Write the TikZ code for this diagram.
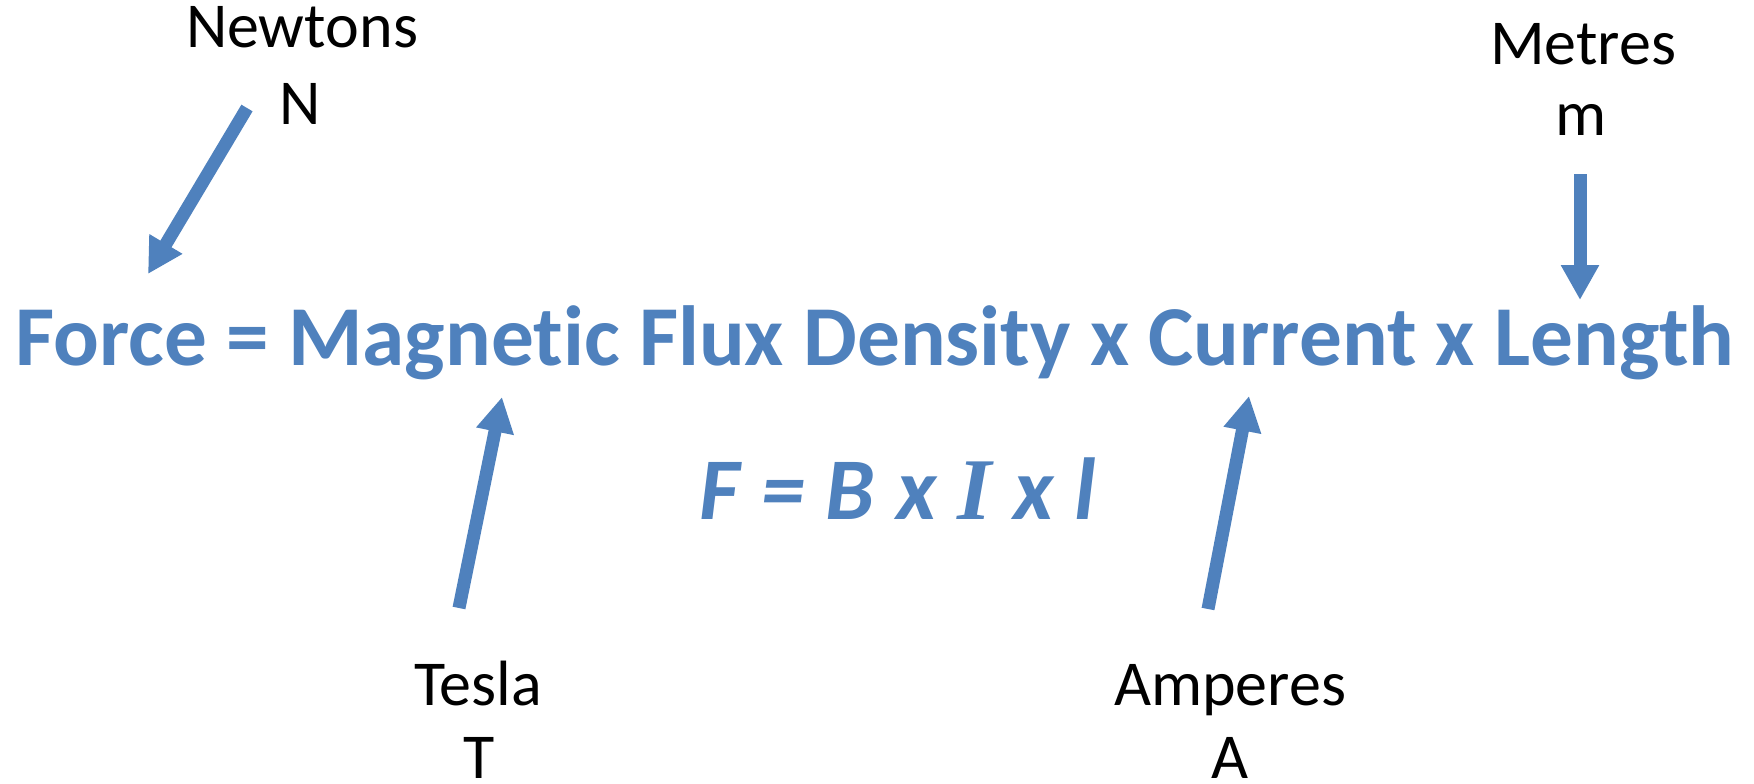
\documentclass[tikz,border=0pt]{standalone}
\usepackage{fontspec}
\setmainfont{Carlito}[Ligatures={NoCommon,NoRare}]
\newfontfamily\serifI{Liberation Serif}
\usetikzlibrary{arrows.meta}
\definecolor{officeblue}{RGB}{79,129,189}
\newcommand{\gap}{\hspace{0.24em}}
\tikzset{
  unitlbl/.style={inner sep=0pt, anchor=base, font=\fontsize{64}{75}\selectfont, text=black},
  blockarrow/.style={draw=officeblue, line width=13pt, -{Triangle[width=36pt,length=35pt]}},
}
\begin{document}
\begin{tikzpicture}[x=1pt,y=-1pt]
\useasboundingbox (0,0) rectangle (1754,784);
% main equation in words
\node[inner sep=0pt, anchor=base, text=officeblue, font=\fontsize{85.3}{100}\selectfont\bfseries] (title) at (875,365)
  {Force = Magnetic Flux Density x Current x Length};
% symbolic formula
\node[inner sep=0pt, anchor=base, text=officeblue, font=\fontsize{88}{100}\selectfont\bfseries\itshape] (formula) at (898,519)
  {F\gap=\gap B\gap x\gap{\serifI I}\gap x\gap l};
% unit labels
\node[unitlbl] (newtons) at (302,48) {Newtons};
\node[unitlbl] (newtonsN) at (300,124) {N};
\node[unitlbl] (metres) at (1583,65) {Metres};
\node[unitlbl] (metresM) at (1581,135) {m};
\node[unitlbl] (tesla) at (478,705) {Tesla};
\node[unitlbl] (teslaT) at (479,778) {T};
\node[unitlbl] (amperes) at (1230,705) {Amperes};
\node[unitlbl] (amperesA) at (1230,778) {A};
% arrow ends
\coordinate (nTail) at (247,108);
\coordinate (nTip) at (148,274);
\coordinate (mTail) at (1580,174);
\coordinate (mTip) at (1580,300);
\coordinate (tTail) at (459,608);
\coordinate (tTip) at (502,397);
\coordinate (aTail) at (1208,609);
\coordinate (aTip) at (1249,396);
\draw[blockarrow] (nTail) -- (nTip);
\draw[blockarrow] (mTail) -- (mTip);
\draw[blockarrow] (tTail) -- (tTip);
\draw[blockarrow] (aTail) -- (aTip);
\end{tikzpicture}
\end{document}
